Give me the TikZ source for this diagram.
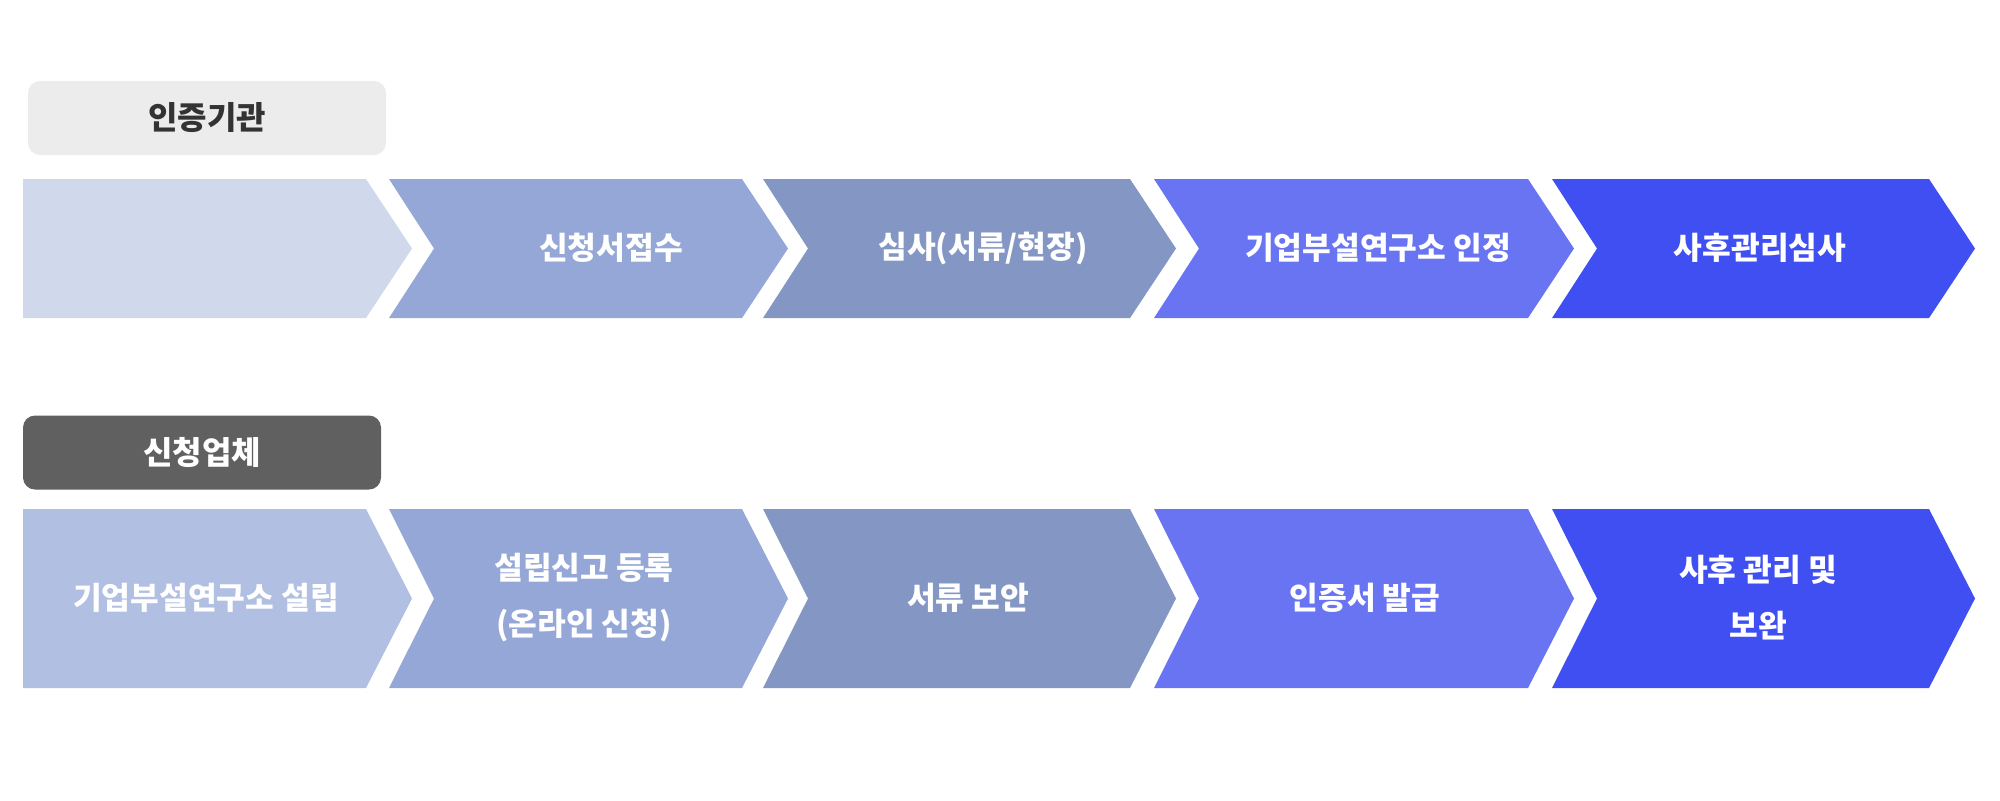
\documentclass[tikz,border=0pt]{standalone}
\usepackage{fontspec}
\setmainfont{Noto Sans CJK KR}
\usetikzlibrary{positioning}

\definecolor{stepA}{HTML}{D0D8EC}
\definecolor{stepAlt}{HTML}{B0BFE2}
\definecolor{stepB}{HTML}{94A7D6}
\definecolor{stepC}{HTML}{8497C4}
\definecolor{stepD}{HTML}{6874F2}
\definecolor{stepE}{HTML}{404FF2}
\definecolor{tagLight}{HTML}{ECECEC}
\definecolor{tagDark}{HTML}{606060}
\definecolor{tagInk}{HTML}{333333}

\begin{document}
\begin{tikzpicture}[x=0.5pt, y=-0.5pt,
  steptext/.style={text=white, font=\bfseries\fontsize{15.6}{28}\selectfont, align=center},
  tagbox/.style={rounded corners=6pt, inner sep=0pt, minimum width=179pt, minimum height=37pt,
    font=\bfseries\fontsize{16}{18}\selectfont}]
\useasboundingbox (0,0) rectangle (2000,800);

% upper row
\node[tagbox, fill=tagLight, text=tagInk] (agency) at (207,118) {인증기관};
\foreach \l/\r/\n/\c in {23/366/0/stepA, 389/742/45/stepB, 763/1130/45/stepC,
    1154/1528/45/stepD, 1552/1929/45/stepE}
  \fill[\c] (\l,179) -- (\r,179) -- (\r+46,248.5) -- (\r,318) -- (\l,318) -- (\l+\n,248.5) -- cycle;
\node[steptext] (receive) at (611,248) {신청서접수};
\node[steptext] (review) at (983,248) {심사(서류/현장)};
\node[steptext] (approve) at (1378,248) {기업부설연구소 인정};
\node[steptext] (audit) at (1760,248) {사후관리심사};

% lower row
\node[tagbox, fill=tagDark, text=white] (company) at (202,452.5) {신청업체};
\foreach \l/\r/\n/\c in {23/366/0/stepAlt, 389/742/45/stepB, 763/1130/45/stepC,
    1154/1528/45/stepD, 1552/1929/45/stepE}
  \fill[\c] (\l,509) -- (\r,509) -- (\r+46,598.5) -- (\r,688) -- (\l,688) -- (\l+\n,598.5) -- cycle;
\node[steptext] (found) at (206,598) {기업부설연구소 설립};
\node[steptext] (register) at (584,598) {설립신고 등록\\(온라인 신청)};
\node[steptext] (papers) at (968,598) {서류 보안};
\node[steptext] (issue) at (1365,598) {인증서 발급};
\node[steptext] (manage) at (1758,598) {사후 관리 및\\보완};
\end{tikzpicture}
\end{document}
